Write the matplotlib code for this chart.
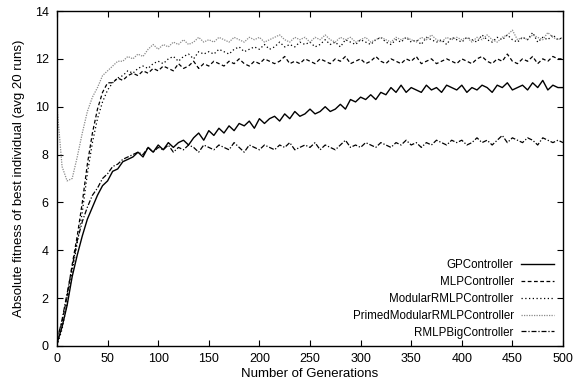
import numpy as np
import matplotlib
matplotlib.use("Agg")
import matplotlib.pyplot as plt

plt.rcParams['font.family'] = ['Liberation Sans', 'DejaVu Sans']

generations = np.arange(0, 501, 5)

gp_controller = [0.1,0.8,1.7,2.9,3.8,4.6,5.3,5.8,6.3,6.7,
                 6.9,7.3,7.4,7.7,7.8,7.9,8.1,7.9,8.3,8.1,
                 8.4,8.2,8.5,8.3,8.5,8.6,8.4,8.7,8.9,8.6,
                 9.0,8.8,9.1,8.9,9.2,9.0,9.3,9.2,9.4,9.1,
                 9.5,9.3,9.5,9.6,9.4,9.7,9.5,9.8,9.6,9.7,
                 9.9,9.7,9.8,10.0,9.8,9.9,10.1,9.9,10.3,10.2,
                 10.4,10.3,10.5,10.3,10.6,10.5,10.8,10.6,10.9,10.6,
                 10.8,10.7,10.6,10.9,10.7,10.8,10.6,10.9,10.8,10.7,
                 10.9,10.6,10.8,10.7,10.9,10.8,10.6,10.9,10.8,11.0,
                 10.7,10.8,10.9,10.7,11.0,10.8,11.1,10.7,10.9,10.8,
                 10.8]

mlp_controller = [0.3,1.0,2.1,3.4,4.6,6.0,7.6,8.9,9.9,10.6,
                  11.0,11.0,11.2,11.1,11.3,11.4,11.3,11.5,11.4,11.6,
                  11.5,11.7,11.6,11.5,11.8,11.6,11.7,11.9,11.6,11.8,
                  11.7,11.9,11.8,11.7,11.9,11.8,12.0,11.8,11.7,11.9,
                  11.8,12.0,11.9,11.8,11.9,12.1,11.8,11.9,11.8,12.0,
                  11.9,11.8,12.0,11.9,11.8,12.0,11.9,12.1,11.8,11.9,
                  12.0,11.8,11.9,12.1,11.9,11.8,12.0,11.9,11.8,12.0,
                  11.9,12.1,11.8,11.9,12.0,11.8,11.9,12.0,11.9,11.8,
                  12.0,11.9,11.8,12.0,12.1,11.9,11.8,12.0,11.9,12.2,
                  11.9,11.8,12.0,11.9,12.1,11.8,12.0,11.9,12.1,12.0,
                  12.0]

modular_rmlp = [0.0,0.7,1.8,3.1,4.3,5.6,7.2,8.5,9.5,10.2,
                10.7,11.0,11.2,11.3,11.5,11.4,11.6,11.7,11.6,11.8,
                11.9,11.8,12.0,12.1,11.9,12.1,12.2,12.0,12.3,12.2,
                12.3,12.2,12.4,12.3,12.2,12.4,12.5,12.3,12.4,12.5,
                12.4,12.6,12.4,12.5,12.7,12.5,12.6,12.5,12.7,12.6,
                12.7,12.5,12.6,12.8,12.6,12.7,12.5,12.8,12.7,12.6,
                12.8,12.7,12.6,12.8,12.9,12.7,12.6,12.8,12.7,12.9,
                12.7,12.8,12.6,12.9,12.8,12.7,12.8,12.6,12.9,12.8,
                12.7,12.9,12.8,12.7,13.0,12.8,12.7,12.9,12.8,13.0,
                12.8,12.7,12.9,12.8,13.1,12.7,12.9,12.8,13.0,12.8,
                12.9]

primed_modular_rmlp = [10.0,7.5,6.9,7.0,7.9,8.9,9.8,10.4,10.8,11.3,
                       11.5,11.7,11.9,11.9,12.1,12.0,12.2,12.1,12.4,12.6,
                       12.4,12.6,12.5,12.7,12.6,12.8,12.6,12.7,12.9,12.7,
                       12.8,12.7,12.9,12.8,12.7,12.9,12.8,12.7,12.9,12.8,
                       12.9,12.7,12.8,12.9,13.0,12.8,12.7,12.9,12.8,12.9,
                       12.7,12.9,12.8,13.0,12.8,12.7,12.9,12.8,12.9,12.7,
                       12.8,12.9,12.7,12.8,12.9,12.8,12.7,12.9,12.8,12.9,
                       12.8,12.7,12.9,12.8,13.0,12.8,12.7,12.9,12.8,12.9,
                       12.8,12.9,12.7,12.9,12.8,13.0,12.8,12.7,12.9,13.0,
                       13.2,12.8,12.9,12.8,13.0,12.9,12.8,13.1,12.9,12.8,
                       12.9]

rmlp_big = [0.2,1.1,2.2,3.3,4.4,5.2,5.8,6.3,6.6,7.0,
            7.2,7.5,7.6,7.8,7.9,8.0,8.1,8.0,8.3,8.1,
            8.3,8.2,8.4,8.1,8.3,8.2,8.4,8.3,8.1,8.4,
            8.3,8.2,8.4,8.3,8.2,8.5,8.3,8.1,8.4,8.3,
            8.2,8.4,8.3,8.2,8.4,8.3,8.5,8.2,8.3,8.4,
            8.3,8.5,8.2,8.4,8.3,8.2,8.4,8.6,8.3,8.4,
            8.3,8.5,8.4,8.3,8.5,8.4,8.3,8.5,8.4,8.6,
            8.4,8.5,8.3,8.5,8.4,8.6,8.5,8.4,8.6,8.5,
            8.6,8.4,8.5,8.7,8.5,8.6,8.4,8.6,8.8,8.5,
            8.7,8.6,8.5,8.7,8.6,8.4,8.7,8.6,8.5,8.6,
            8.5]

series_labels = ["GPController", "MLPController", "ModularRMLPController",
                 "PrimedModularRMLPController", "RMLPBigController"]
x_ticks = [0, 50, 100, 150, 200, 250, 300, 350, 400, 450, 500]
y_ticks = [0, 2, 4, 6, 8, 10, 12, 14]

fig = plt.figure(figsize=(5.74, 3.80), dpi=100)
ax = fig.add_axes([57/574, 34/380, 506/574, 335/380])

ax.plot(generations, gp_controller, color='black', lw=1.0, ls='-', label=series_labels[0])
ax.plot(generations, mlp_controller, color='black', lw=0.9, ls=(0, (3, 2)), label=series_labels[1])
ax.plot(generations, modular_rmlp, color='black', lw=0.9, ls=(0, (1, 2)), label=series_labels[2])
ax.plot(generations, primed_modular_rmlp, color='#8a8a8a', lw=0.9, ls=(0, (1, 1)), label=series_labels[3])
ax.plot(generations, rmlp_big, color='black', lw=0.9, ls=(0, (4, 1.5, 1, 1.5)), label=series_labels[4])

ax.set_xlim(0, 500)
ax.set_ylim(0, 14)
ax.set_xticks(x_ticks)
ax.set_yticks(y_ticks)
ax.tick_params(direction='in', length=4, width=0.8, top=True, right=True, labelsize=9, pad=6)
ax.tick_params(axis='x', pad=5)
for s in ax.spines.values():
    s.set_linewidth(1.0)

ax.set_xlabel("Number of Generations", fontsize=9.5, labelpad=2)
ax.set_ylabel("Absolute fitness of best individual (avg 20 runs)", fontsize=9.5, labelpad=7)

leg = ax.legend(loc='lower right', frameon=False, markerfirst=False, fontsize=8.3,
                handlelength=2.9, handletextpad=0.6, labelspacing=0.42,
                borderaxespad=0.25, bbox_to_anchor=(0.997, 0.0))

fig.savefig("out.png", dpi=100)
